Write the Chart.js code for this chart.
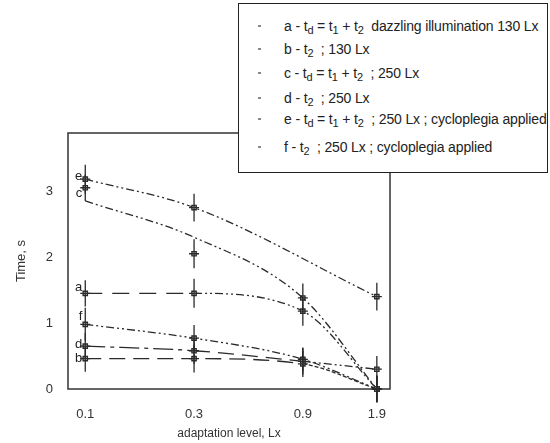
<!DOCTYPE html>
<html>
<head>
<meta charset="utf-8">
<script src="https://cdn.jsdelivr.net/npm/chart.js@4/dist/chart.umd.min.js"></script>
<style>
body { margin: 0; background: #fff; }
#wrap { position: relative; width: 550px; height: 443px; }
#legend {
    position: absolute; left: 238px; top: 3px; width: 310px; height: 170px;
    border: 1.5px solid #222; background: #fff; box-sizing: border-box;
    font-family: "Liberation Sans", Arial, sans-serif; font-size: 14px; color: #222;
}
.row { position: absolute; left: 0; white-space: nowrap; line-height: 16px; }
.sym { position: absolute; left: 19px; top: 7px; width: 3px; height: 2px; background: #888; }
.txt { position: absolute; left: 45px; top: 0; letter-spacing: -0.15px; }
sub { font-size: 11px; vertical-align: -3px; line-height: 0; }
</style>
</head>
<body>
<div id="wrap">
    <canvas id="grafico" width="550" height="443"></canvas>
    <div id="legend"></div>
</div>
<script>
// adaptation levels, Lx (log axis)
const levels = [0.1, 0.3, 0.9, 1.9];
const yTicks = [0, 1, 2, 3];

// time, s  (measured points)
const aTime = [1.45, 1.45, 1.18, 0];
const bTime = [0.46, 0.46, 0.38, 0];
const cTime = [3.05, 2.05, 1.38, 0];
const dTime = [0.65, 0.58, 0.42, 0.3];
const eTime = [3.18, 2.75, null, 1.4];
const fTime = [0.98, 0.77, 0.45, 0];
// fitted curve for c (does not go through its points)
const cFit = [2.85, 2.3, 1.38, 0];

// error bar half-widths
const aErr = [0.2, 0.22, 0.22, 0.2];
const bErr = [0.2, 0.21, 0.2, 0.2];
const cErr = [0.2, 0.22, 0.22, 0.2];
const dErr = [0.2, 0.2, 0.2, 0.2];
const eErr = [0.22, 0.21, 0, 0.21];
const fErr = [0.25, 0.2, 0.18, 0.2];

const legendTexts = [
    'a - t<sub>d</sub> = t<sub>1</sub> + t<sub>2</sub>&nbsp; dazzling illumination 130 Lx',
    'b - t<sub>2</sub> &nbsp;; 130 Lx',
    'c - t<sub>d</sub> = t<sub>1</sub> + t<sub>2</sub> &nbsp;; 250 Lx',
    'd - t<sub>2</sub> &nbsp;; 250 Lx',
    'e - t<sub>d</sub> = t<sub>1</sub> + t<sub>2</sub> &nbsp;; 250 Lx ; cycloplegia applied',
    'f - t<sub>2</sub> &nbsp;; 250 Lx ; cycloplegia applied'
];
const legendRows = [22, 45, 69, 94, 115, 143];

const legendDiv = document.getElementById('legend');
legendTexts.forEach((t, i) => {
    const row = document.createElement('div');
    row.className = 'row';
    row.style.top = (legendRows[i] - 8) + 'px';
    row.innerHTML = '<span class="sym"></span><span class="txt">' + t + '</span>';
    legendDiv.appendChild(row);
});

function pontos(arr) {
    return levels.map((x, i) => ({ x: x, y: arr[i] }));
}

const cor = '#2a2a2a';
const dashDot = [8, 3, 2, 3, 2, 3];

function serie(label, arr, dash, marcas) {
    return {
        label: label,
        data: pontos(arr),
        borderColor: cor,
        borderWidth: 1.3,
        backgroundColor: '#fff',
        pointStyle: 'rect',
        pointRadius: marcas ? 3 : 0,
        pointBorderWidth: 1.4,
        pointBorderColor: cor,
        cubicInterpolationMode: 'monotone',
        spanGaps: true,
        clip: false,
        segment: { borderDash: dash }
    };
}

const erros = [
    { arr: aTime, err: aErr }, { arr: bTime, err: bErr }, { arr: cTime, err: cErr },
    { arr: dTime, err: dErr }, { arr: eTime, err: eErr }, { arr: fTime, err: fErr }
];

const rotulos = [
    { t: 'e', arr: eTime, dy: -3 }, { t: 'c', arr: cFit, dy: -8 }, { t: 'a', arr: aTime, dy: -6 },
    { t: 'f', arr: fTime, dy: -8 }, { t: 'd', arr: dTime, dy: -2 }, { t: 'b', arr: bTime, dy: 0 }
];

const extras = {
    id: 'extras',
    afterDatasetsDraw(chart) {
        const ctx = chart.ctx;
        const xs = chart.scales.x, ys = chart.scales.y;
        const a = chart.chartArea;
        ctx.save();
        // frame
        ctx.strokeStyle = '#333';
        ctx.lineWidth = 1.5;
        ctx.strokeRect(a.left, a.top, a.right - a.left, a.bottom - a.top);
        // error bars with short horizontal arms
        ctx.strokeStyle = cor;
        ctx.lineWidth = 1.3;
        erros.forEach(s => {
            levels.forEach((lv, i) => {
                if (s.arr[i] === null) return;
                const px = xs.getPixelForValue(lv);
                const py = ys.getPixelForValue(s.arr[i]);
                ctx.beginPath();
                ctx.moveTo(px - 5, py);
                ctx.lineTo(px + 5, py);
                if (s.err[i]) {
                    ctx.moveTo(px, ys.getPixelForValue(s.arr[i] + s.err[i]));
                    ctx.lineTo(px, ys.getPixelForValue(s.arr[i] - s.err[i]));
                }
                ctx.stroke();
            });
        });
        // curve letters
        ctx.fillStyle = '#222';
        ctx.font = '13px "Liberation Sans", Arial, sans-serif';
        ctx.textAlign = 'right';
        ctx.textBaseline = 'middle';
        rotulos.forEach(r => {
            ctx.fillText(r.t, xs.getPixelForValue(levels[0]) - 3, ys.getPixelForValue(r.arr[0]) + r.dy);
        });
        ctx.restore();
    }
};

const fonte = { family: '"Liberation Sans", Arial, sans-serif', size: 12 };

const grafico = new Chart(document.getElementById('grafico').getContext('2d'), {
    type: 'line',
    data: {
        datasets: [
            serie('a', aTime, c => c.p0DataIndex === 0 ? [17, 10] : dashDot, true),
            serie('b', bTime, c => c.p0DataIndex < 2 ? [16, 8] : [4, 2], true),
            serie('c', cFit, dashDot, false),
            Object.assign(serie('c pts', cTime, [], true), { showLine: false }),
            serie('d', dTime, c => c.p0DataIndex === 0 ? [20, 5, 4, 5] : c.p0DataIndex === 1 ? [16, 8] : dashDot, true),
            serie('e', eTime, dashDot, true),
            serie('f', fTime, dashDot, true)
        ]
    },
    options: {
        responsive: false,
        animation: false,
        layout: { padding: { left: 0, right: 160, top: 133, bottom: 0 } },
        plugins: { legend: { display: false }, tooltip: { enabled: false } },
        scales: {
            x: {
                type: 'logarithmic',
                min: 0.084,
                max: 2.17,
                afterBuildTicks: s => { s.ticks = levels.map(v => ({ value: v })); },
                afterFit: s => { s.height = 54; },
                grid: { display: false, drawTicks: false },
                border: { display: false },
                ticks: { color: '#333', font: { ...fonte, size: 13 }, padding: 18, callback: v => String(v), autoSkip: false, maxRotation: 0 },
                title: { display: true, text: 'adaptation level, Lx', color: '#333', font: fonte, padding: { top: 0, bottom: 2 } }
            },
            y: {
                min: 0,
                max: 3.88,
                afterBuildTicks: s => { s.ticks = yTicks.map(v => ({ value: v })); },
                afterFit: s => { s.width = 68; },
                grid: { display: false, drawTicks: false },
                border: { display: false },
                ticks: { color: '#333', font: { ...fonte, size: 13 }, padding: 15 },
                title: { display: true, text: 'Time, s', color: '#333', font: { ...fonte, size: 13 }, padding: { top: 14, bottom: 0 } }
            }
        }
    },
    plugins: [extras]
});
</script>
</body>
</html>
